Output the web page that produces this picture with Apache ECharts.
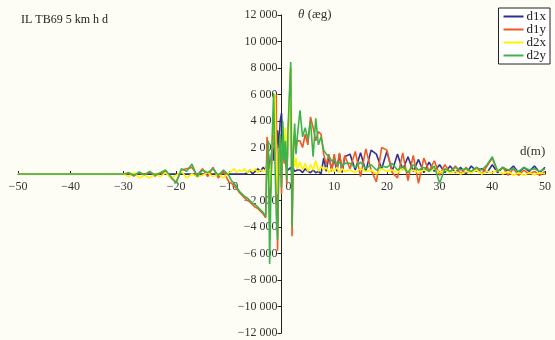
<!DOCTYPE html>
<html>
<head>
<meta charset="utf-8">
<script src="https://cdn.jsdelivr.net/npm/echarts@6/dist/echarts.min.js"></script>
<style>
  body { margin: 0; padding: 0; background: #fdfdf5; }
  #chart { width: 555px; height: 340px; }
</style>
</head>
<body>
<div id="chart"></div>
<script>
// distance d (m), shared by all four series
const xs = [
  -50,
  -30, -29, -28, -27, -26, -25, -24, -23, -22, -21, -20, -19, -18, -17, -16, -15, -14, -13, -12, -11, -10,
  -9.5, -9, -8.5, -8, -7.5, -7, -6.5, -6, -5.5, -5, -4.5, -4, -3.5,
  -3, -2.75, -2.5, -2.25, -2, -1.75, -1.5, -1.25, -1, -0.75, -0.5, -0.25, 0, 0.25, 0.5, 0.75, 1, 1.25, 1.5, 1.75, 2, 2.25, 2.5, 2.75, 3,
  3.5, 4, 4.5, 5, 5.5, 6, 6.5, 7, 7.5, 8, 8.5, 9, 9.5, 10, 10.5, 11, 11.5, 12,
  13, 14, 15, 16, 17, 18, 19, 20, 21, 22, 23, 24, 25, 26, 27, 28, 29, 30,
  31, 32, 33, 34, 35, 36, 37, 38, 39, 40, 41, 42, 43, 44, 45, 46, 47, 48, 49, 50
];

const d1x = [
  0,
  0, 0, 0, 0, 0, 0, 0, 0, 0, 0, 0, 0, 0, 0, 0, 0, 0, 0, 0, 0, 0,
  0, 0, 0, 0, 0, 0, 100, 300, 0, 200, 400, 200, 500,
  300, 800, 1500, 400, 1200, 2000, 1000, 2800, 1500, 3300, 2000, 4000, 4600, 2500, 1500, 800, 500, 300, 200, 500, 100, 400, 200, 100, 300,
  300, 100, 400, 200, 100, 300, 100, 200, 0, 1200, 200, 1400, 300, 1200, 200, 1500, 100, 1300,
  1500, 300, 1600, 200, 1800, 1500, 400, 1700, 200, 1500, 300, 1300, 200, 1100, 100, 900, 200, 700,
  100, 600, 100, 500, 0, 600, 200, 400, 100, 700, 100, 500, 200, 600, 100, 500, 200, 600, 100, 500
];

const d1y = [
  0,
  0, 50, -150, 100, -100, 150, -150, 50, 200, -300, -600, 300, 400, 500, -100, 400, -200, 500, -300, 200, -600,
  -700, -900, -1100, -1400, -1600, -1800, -2000, -2100, -2300, -2500, -2600, -2800, -3000,
  -3300, 2800, 1500, -3500, -500, 2000, 4500, 1000, 6000, -5800, 1000, 2500, -1500, 3000, 800, 2000, -800, 3000, 5500, 8000, -4700, 1500, 3000, 2000, 2500,
  2500, 2000, 3000, 2200, 4300, 3500, 2500, 3200, 3000, 1500, 700, 1500, 200, 1500, 400, 1600, 300, 1400,
  400, 1700, -200, 1900, 300, -600, 2000, 1800, 100, -300, 1600, -500, 1400, -700, 1200, 200, 1000, -100,
  700, 100, 600, 0, 500, 100, 500, 0, 600, 1200, 200, 500, -100, 400, -100, 300, 0, 200, -100, 200
];

const d2x = [
  0,
  0, -200, 100, -300, -100, -300, 0, -200, 100, -300, -100, 200, -300, 0, -200, -100, 100, -200, 0, -300, 100,
  200, 400, 100, 300, 200, 400, 100, 300, 200, 400, 100, 300, 200,
  300, 200, 1000, -1000, 500, 2500, 4500, 6000, 1000, -1500, 1500, 2500, 500, 3000, 2000, 3500, 1000, 2500, 5000, 8000, 200, 1500, 500, 1200, 400,
  900, 300, 800, 200, 700, 300, 1000, 200, 600, 300, 500, 100, 400, 200, 500, 100, 400, 200,
  300, 100, 400, 200, 300, 0, 400, 200, 300, 100, 400, 200, 300, 100, 300, 200, 400, 100,
  300, 100, 200, 0, 200, 100, 300, 0, 200, 100, 300, 0, 200, -100, 100, -100, 100, -50, 100, 0
];

const d2y = [
  0,
  0, 100, -100, 150, -50, 200, -100, 100, 300, -200, -700, 400, 200, 750, -200, 300, 100, 400, -100, 300, -100,
  -500, -700, -1000, -1300, -1500, -1700, -1800, -2000, -2200, -2300, -2500, -2700, -2900,
  -3200, 500, 2500, -6800, -1000, 3000, 6100, 1000, -3000, -5000, 1500, 3000, -1000, 4000, 1000, 2500, -500, 3500, 6000, 8450, -4000, 2000, 3800, 1500, 2800,
  4800, 2800, 3500, 2600, 4000, 1300, 4200, 2200, 2800, 1800, 1500, 1300, 1000, 1100, 700, 900, 600, 800,
  800, 500, 900, 400, 700, 300, 600, 500, 800, 300, 600, 100, 700, 300, 500, 200, 600, -700,
  400, 200, 500, 300, 400, 200, 500, 300, 700, 1300, 200, 500, 300, 400, 200, 500, 300, 400, 200, 400
];

const seriesNames = ['d1x', 'd1y', 'd2x', 'd2y'];
const seriesValues = [d1x, d1y, d2x, d2y];
const colors = ['#2e3192', '#f15a24', '#fff200', '#3cb44a'];

const font = '"Liberation Serif", "DejaVu Serif", serif';

// grid box: x from -50..50 over 18..545 px, y from -12000..12000 over 15..333 px
const gridLeft = 18, gridRight = 10, gridTop = 15, gridBottom = 7;
const W = 555, H = 340;
// move the axes onto the zero lines
const yAxisOffset = -((W - gridLeft - gridRight) / 2);
const xAxisOffset = -((H - gridTop - gridBottom) / 2);

function fmtY(v) {
  if (v === 0) return '';
  const s = String(Math.abs(v)).replace(/\B(?=(\d{3})+(?!\d))/g, ' ');
  return (v < 0 ? '\u2212' : '') + s;
}

function fmtX(v) {
  if (v === 0) return '{z|0}';
  return (v < 0 ? '\u2212' : '') + Math.abs(v);
}

const chart = echarts.init(document.getElementById('chart'));
chart.setOption({
  animation: false,
  backgroundColor: '#fdfdf5',
  color: colors,
  title: {
    text: 'IL TB69 5 km h d',
    left: 16,
    top: 9,
    textStyle: { fontFamily: font, fontSize: 12, fontWeight: 'normal', color: '#222' }
  },
  legend: {
    data: seriesNames,
    orient: 'vertical',
    right: 5,
    top: 8,
    itemWidth: 20,
    itemHeight: 2,
    itemGap: 0,
    icon: 'rect',
    padding: [2, 4, 2, 5],
    borderColor: '#222',
    borderWidth: 1,
    backgroundColor: '#fff',
    textStyle: { fontFamily: font, fontSize: 13, lineHeight: 10.5, color: '#222', padding: [0, 0, 0, -2] }
  },
  grid: { left: gridLeft, right: gridRight, top: gridTop, bottom: gridBottom, outerBoundsMode: 'none', containLabel: false },
  xAxis: {
    type: 'value',
    position: 'bottom',
    offset: xAxisOffset,
    min: -50,
    max: 50,
    interval: 10,
    axisLine: { onZero: false, lineStyle: { color: '#222', width: 1 } },
    axisTick: { show: true, inside: true, length: 3, lineStyle: { color: '#222' } },
    splitLine: { show: false },
    axisLabel: {
      formatter: fmtX,
      margin: 7,
      fontFamily: font,
      fontSize: 12,
      color: '#333',
      rich: { z: { fontFamily: font, fontSize: 12, color: '#333', padding: [0, 0, 0, 14] } }
    }
  },
  yAxis: {
    type: 'value',
    position: 'left',
    offset: yAxisOffset,
    min: -12000,
    max: 12000,
    interval: 2000,
    axisLine: { onZero: false, lineStyle: { color: '#222', width: 1 } },
    axisTick: { show: true, length: 4, lineStyle: { color: '#222' } },
    splitLine: { show: false },
    axisLabel: { formatter: fmtY, margin: 4, fontFamily: font, fontSize: 12, color: '#333' }
  },
  graphic: [
    {
      type: 'text',
      left: 298,
      top: 8,
      style: {
        text: '{i|θ} (æg)',
        font: '13px ' + font,
        fill: '#333',
        rich: { i: { fontStyle: 'italic', fontFamily: font, fontSize: 13, fill: '#333' } }
      }
    },
    {
      type: 'text',
      left: 520,
      top: 145,
      style: { text: 'd(m)', font: '13px ' + font, fill: '#333' }
    }
  ],
  series: seriesNames.map((name, i) => ({
    name,
    type: 'line',
    data: xs.map((x, j) => [x, seriesValues[i][j]]),
    showSymbol: false,
    symbol: 'none',
    lineStyle: { width: 1.6 },
    z: 2 + i
  }))
});
</script>
</body>
</html>
